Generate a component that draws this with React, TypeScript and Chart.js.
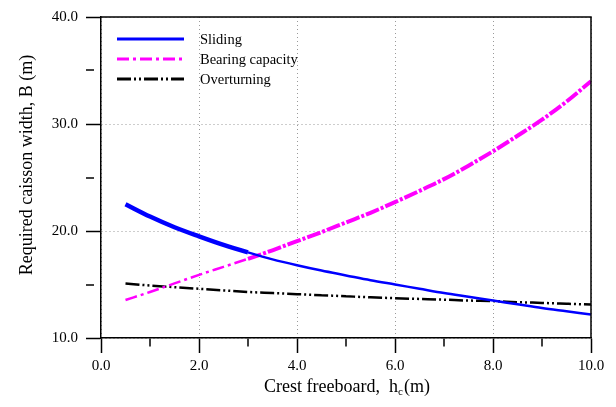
import React, { useEffect, useRef } from "react";
import { Chart, registerables } from "chart.js";

Chart.register(...registerables);

const crestFreeboard = [0.5, 1, 1.5, 2, 2.5, 3, 3.5, 4, 4.5, 5, 5.5, 6, 6.5, 7, 7.5, 8, 8.5, 9, 9.5, 10];
const sliding = [22.5, 21.35, 20.35, 19.5, 18.7, 18.0, 17.35, 16.8, 16.3, 15.85, 15.4, 15.0, 14.6, 14.2, 13.85, 13.5, 13.15, 12.8, 12.5, 12.2];
const bearingCapacity = [13.55, 14.3, 15.1, 15.9, 16.65, 17.4, 18.2, 19.05, 19.9, 20.8, 21.7, 22.7, 23.75, 24.85, 26.1, 27.45, 28.9, 30.4, 32.1, 34.0];
const overturning = [15.1, 14.9, 14.75, 14.6, 14.45, 14.3, 14.2, 14.1, 14.0, 13.9, 13.8, 13.72, 13.65, 13.58, 13.5, 13.45, 13.35, 13.28, 13.2, 13.12];

const seriesNames = ["Sliding", "Bearing capacity", "Overturning"];
const xTitle = "Crest freeboard,  h";
const xTitleSub = "c";
const xTitleEnd = "(m)";
const yTitle = "Required caisson width, B (m)";

const FONT = "'Liberation Serif', 'Times New Roman', serif";

const toPoints = (ys: number[]) => crestFreeboard.map((x, i) => ({ x, y: ys[i] }));

export default function App() {
  const ref = useRef<HTMLCanvasElement | null>(null);

  useEffect(() => {
    if (!ref.current) return;

    const framePlugin = {
      id: "frameAndText",
      beforeDraw(chart: any) {
        const ctx = chart.ctx;
        ctx.save();
        ctx.fillStyle = "#fff";
        ctx.fillRect(0, 0, chart.width, chart.height);
        ctx.restore();
      },
      afterDraw(chart: any) {
        const ctx = chart.ctx;
        const a = chart.chartArea;
        ctx.save();
        ctx.strokeStyle = "#000";
        ctx.lineWidth = 1.5;
        ctx.beginPath();
        ctx.moveTo(a.left, a.top);
        ctx.lineTo(a.right, a.top);
        ctx.lineTo(a.right, a.bottom);
        ctx.stroke();

        // legend
        const rows = [39, 59, 79];
        chart.data.datasets.forEach((ds: any, i: number) => {
          ctx.save();
          ctx.strokeStyle = ds.borderColor;
          ctx.lineWidth = 3;
          ctx.setLineDash(ds.borderDash || []);
          ctx.beginPath();
          ctx.moveTo(117, rows[i]);
          ctx.lineTo(184, rows[i]);
          ctx.stroke();
          ctx.restore();
          ctx.fillStyle = "#000";
          ctx.font = `14.5px ${FONT}`;
          ctx.textBaseline = "middle";
          ctx.textAlign = "left";
          ctx.fillText(ds.label, 200, rows[i] + 1);
        });

        // y title
        ctx.save();
        ctx.translate(27, 165);
        ctx.rotate(-Math.PI / 2);
        ctx.font = `18px ${FONT}`;
        ctx.fillStyle = "#000";
        ctx.textAlign = "center";
        ctx.textBaseline = "middle";
        ctx.fillText(yTitle, 0, 0);
        ctx.restore();

        // x title with subscript
        ctx.font = `18px ${FONT}`;
        const w1 = ctx.measureText(xTitle).width;
        ctx.font = `11px ${FONT}`;
        const w2 = ctx.measureText(xTitleSub).width;
        ctx.font = `18px ${FONT}`;
        const w3 = ctx.measureText(xTitleEnd).width;
        const total = w1 + w2 + w3 + 1;
        let x = 347 - total / 2;
        const base = 392;
        ctx.fillStyle = "#000";
        ctx.textAlign = "left";
        ctx.textBaseline = "alphabetic";
        ctx.fillText(xTitle, x, base);
        x += w1;
        ctx.font = `11px ${FONT}`;
        ctx.fillText(xTitleSub, x, base + 3);
        x += w2 + 1;
        ctx.font = `18px ${FONT}`;
        ctx.fillText(xTitleEnd, x, base);
        ctx.restore();
      },
    };

    const gridCommon = (isMajor: (v: number) => boolean) => ({
      color: (c: any) => (c.tick && isMajor(c.tick.value) ? "#9a9a9a" : "rgba(0,0,0,0)"),
      lineWidth: (c: any) => (c.tick && isMajor(c.tick.value) ? 1 : 0),
      tickColor: "#000",
      tickWidth: 1.5,
      tickLength: 15,
      tickBorderDash: (c: any) => (c.tick && isMajor(c.tick.value) ? [] : [8, 100]),
      drawTicks: true,
    });

    const chart = new Chart(ref.current, {
      type: "line",
      data: {
        datasets: [
          {
            label: seriesNames[0],
            data: toPoints(sliding),
            borderColor: "#0000ff",
            borderWidth: 2.5,
            segment: { borderWidth: (c: any) => (c.p1.parsed.x <= 3.0 ? 4.5 : 2.5) },
            pointRadius: 0,
            cubicInterpolationMode: "monotone",
          } as any,
          {
            label: seriesNames[1],
            data: toPoints(bearingCapacity),
            borderColor: "#ff00ff",
            borderWidth: 2.5,
            borderDash: [12, 4, 3, 4],
            segment: {
              borderWidth: (c: any) => (c.p0.parsed.x >= 3.0 ? 4 : 2.5),
              borderDash: (c: any) => (c.p0.parsed.x >= 3.0 ? [14, 2, 3, 2] : [12, 4, 3, 4]),
            },
            pointRadius: 0,
            cubicInterpolationMode: "monotone",
          } as any,
          {
            label: seriesNames[2],
            data: toPoints(overturning),
            borderColor: "#000000",
            borderWidth: 2.5,
            borderDash: [14, 3, 2, 3, 2, 3],
            pointRadius: 0,
            cubicInterpolationMode: "monotone",
          } as any,
        ],
      },
      options: {
        animation: false,
        responsive: false,
        maintainAspectRatio: false,
        layout: { padding: { left: 0, top: 13, right: 25, bottom: 0 } },
        plugins: { legend: { display: false }, tooltip: { enabled: false }, title: { display: false } },
        scales: {
          x: {
            type: "linear",
            min: 0,
            max: 10,
            afterFit: (s: any) => { s.height = 69; },
            ticks: {
              stepSize: 1,
              autoSkip: false,
              maxRotation: 0,
              padding: 4,
              color: "#000",
              font: { family: FONT, size: 15 },
              callback: (v: any) => (Number(v) % 2 === 0 ? Number(v).toFixed(1) : ""),
            },
            grid: gridCommon((v) => v % 2 === 0),
            border: { display: true, color: "#000", width: 1.5, dash: [1, 3] },
          },
          y: {
            type: "linear",
            min: 10,
            max: 40,
            afterFit: (s: any) => { s.width = 101; },
            ticks: {
              stepSize: 5,
              autoSkip: false,
              padding: 8,
              color: "#000",
              font: { family: FONT, size: 15 },
              callback: (v: any) => (Number(v) % 10 === 0 ? Number(v).toFixed(1) : ""),
            },
            grid: gridCommon((v) => v % 10 === 0),
            border: { display: true, color: "#000", width: 1.5, dash: [1, 3] },
          },
        },
      },
      plugins: [framePlugin],
    } as any);

    return () => chart.destroy();
  }, []);

  return (
    <div style={{ position: "fixed", left: 0, top: 0, width: 616, height: 407, background: "#fff" }}>
      <canvas ref={ref} width={616} height={407} style={{ width: 616, height: 407, display: "block" }} />
    </div>
  );
}
